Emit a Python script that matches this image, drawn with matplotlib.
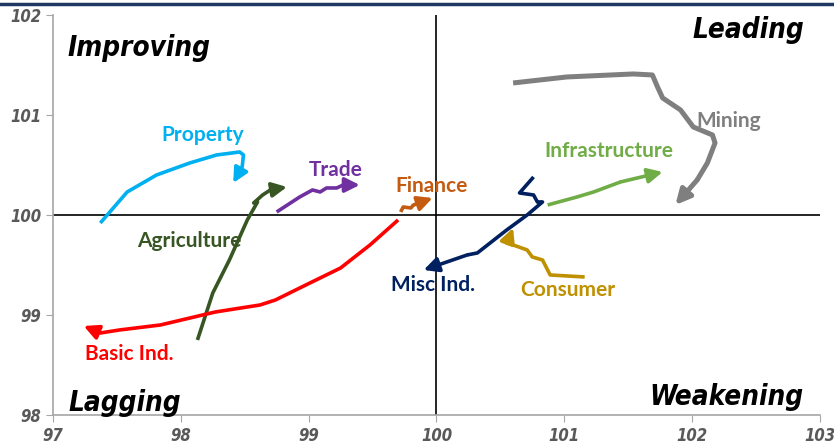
import matplotlib
matplotlib.use("Agg")
import matplotlib.pyplot as plt
from matplotlib.lines import Line2D

# series paths (RS-ratio, RS-momentum), last point is the arrow tip
property_x = [97.37, 97.58, 97.81, 98.07, 98.28, 98.46, 98.49, 98.48, 98.41]
property_y = [99.92, 100.23, 100.40, 100.52, 100.60, 100.63, 100.60, 100.48, 100.32]
agri_x = [98.13, 98.25, 98.38, 98.52, 98.60, 98.57, 98.64, 98.70, 98.83]
agri_y = [98.75, 99.22, 99.55, 99.95, 100.13, 100.12, 100.20, 100.25, 100.28]
trade_x = [98.75, 98.93, 99.03, 99.09, 99.14, 99.22, 99.27, 99.40]
trade_y = [100.03, 100.18, 100.25, 100.23, 100.27, 100.27, 100.30, 100.30]
finance_x = [99.72, 99.74, 99.80, 99.82, 99.97]
finance_y = [100.03, 100.08, 100.07, 100.10, 100.17]
basic_x = [99.70, 99.48, 99.25, 99.01, 98.74, 98.62, 98.27, 97.84, 97.52, 97.37, 97.24]
basic_y = [99.95, 99.70, 99.47, 99.32, 99.15, 99.10, 99.03, 98.90, 98.85, 98.82, 98.89]
misc_x = [100.76, 100.65, 100.76, 100.79, 100.83, 100.71, 100.55, 100.32, 100.24, 99.90]
misc_y = [100.38, 100.22, 100.20, 100.13, 100.13, 100.00, 99.85, 99.62, 99.60, 99.45]
consumer_x = [101.16, 100.89, 100.87, 100.83, 100.75, 100.71, 100.60, 100.55, 100.57, 100.60]
consumer_y = [99.38, 99.40, 99.45, 99.55, 99.58, 99.65, 99.70, 99.72, 99.77, 99.87]
infra_x = [100.87, 101.10, 101.23, 101.44, 101.77]
infra_y = [100.10, 100.18, 100.23, 100.33, 100.43]
mining_x = [100.60, 101.02, 101.54, 101.69, 101.73, 101.77, 101.91, 102.01, 102.16, 102.18, 102.12, 102.04, 101.87]
mining_y = [101.32, 101.38, 101.41, 101.40, 101.28, 101.17, 101.05, 100.88, 100.80, 100.72, 100.52, 100.35, 100.10]

series = [
    ("Property", property_x, property_y, "#00B0F0", 2.6, (98.17, 100.80)),
    ("Agriculture", agri_x, agri_y, "#375623", 2.6, (98.07, 99.74)),
    ("Trade", trade_x, trade_y, "#7030A0", 2.6, (99.21, 100.45)),
    ("Finance", finance_x, finance_y, "#C55A11", 2.6, (99.96, 100.29)),
    ("Basic Ind.", basic_x, basic_y, "#FF0000", 2.6, (97.60, 98.61)),
    ("Misc Ind.", misc_x, misc_y, "#002060", 2.6, (99.97, 99.30)),
    ("Consumer", consumer_x, consumer_y, "#BF9000", 2.6, (101.03, 99.25)),
    ("Infrastructure", infra_x, infra_y, "#70AD47", 2.6, (101.35, 100.64)),
    ("Mining", mining_x, mining_y, "#7F7F7F", 3.6, (102.29, 100.94)),
]

quadrants = [("Improving", 97.67, 101.67), ("Leading", 102.44, 101.85),
             ("Lagging", 97.56, 98.12), ("Weakening", 102.27, 98.18)]

fig = plt.figure(figsize=(8.34, 4.48), dpi=100)
ax = fig.add_axes([0.0636, 0.0737, 0.9194, 0.8929])
ax.set_xlim(97, 103)
ax.set_ylim(98, 102)

ax.axhline(100, color="black", lw=1.2, zorder=1)
ax.axvline(100, color="black", lw=1.2, zorder=1)

for name, xs, ys, c, lw, (lx, ly) in series:
    ax.plot(xs[:-1], ys[:-1], color=c, lw=lw, solid_capstyle="butt", solid_joinstyle="round", zorder=3)
    ax.annotate("", xy=(xs[-1], ys[-1]), xytext=(xs[-2], ys[-2]),
                arrowprops=dict(arrowstyle="-|>", color=c, lw=lw, mutation_scale=22,
                                shrinkA=0, shrinkB=0), zorder=3)
    ax.text(lx, ly, name, color=c, fontsize=15, fontweight="bold",
            family=["Lato", "DejaVu Sans"], ha="center", va="center", zorder=4)

for name, qx, qy in quadrants:
    ax.text(qx, qy, name, fontsize=20, fontweight="bold", fontstyle="italic",
            family="DejaVu Sans", fontstretch="condensed", ha="center", va="center")

for s in ["top", "right"]:
    ax.spines[s].set_visible(False)
for s in ["left", "bottom"]:
    ax.spines[s].set_color("#A6A6A6")
    ax.spines[s].set_linewidth(1.2)
ax.set_xticks(range(97, 104))
ax.set_yticks(range(98, 103))
ax.tick_params(colors="#A6A6A6", length=5, direction="out", labelcolor="#595959")
for lab in ax.get_xticklabels() + ax.get_yticklabels():
    lab.set_fontweight("bold")
    lab.set_fontstyle("italic")
    lab.set_fontsize(12)
    lab.set_family("DejaVu Sans")
    lab.set_fontstretch("condensed")

fig.add_artist(Line2D([0, 1], [1 - 4 / 448, 1 - 4 / 448], color="#1F3864", lw=2.5))

fig.savefig("out.png", dpi=100)
